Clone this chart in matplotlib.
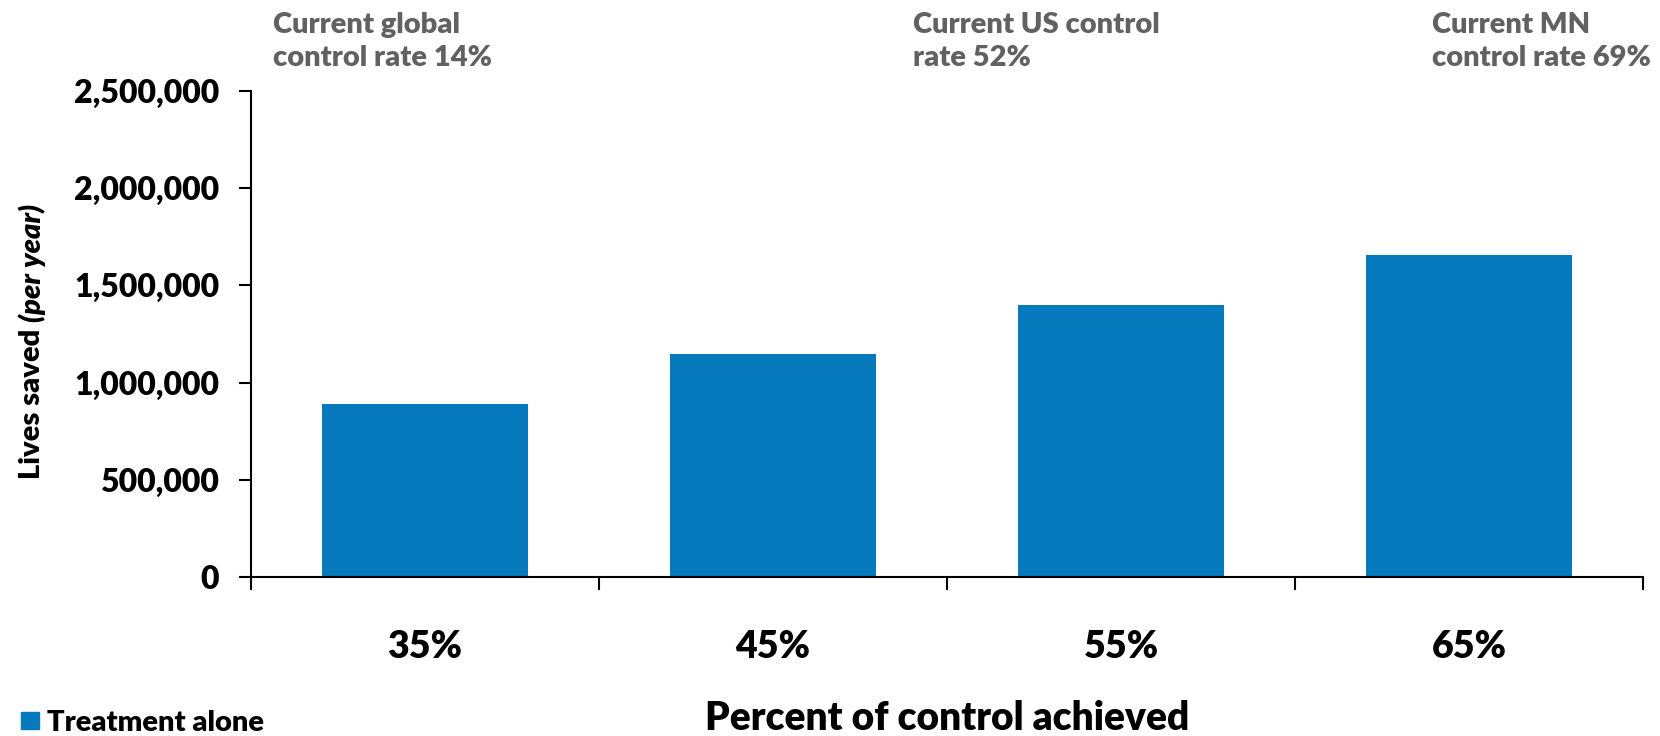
import matplotlib
matplotlib.use("Agg")
import matplotlib.pyplot as plt
from matplotlib.ticker import FuncFormatter, FixedLocator
from matplotlib.patches import Rectangle

# Data
categories = ["35%", "45%", "55%", "65%"]
lives_saved = [890000, 1145000, 1400000, 1655000]
series_name = "Treatment alone"
annotations = [
    "Current global\ncontrol rate 14%",
    "Current US control\nrate 52%",
    "Current MN\ncontrol rate 69%",
]
y_ticks = [0, 500000, 1000000, 1500000, 2000000, 2500000]

BAR_COLOR = "#067ABD"
NOTE_COLOR = "#616161"
FONT = ["Lato", "DejaVu Sans"]
WEIGHT = "heavy"

plt.rcParams["font.family"] = FONT

W, H = 1660, 736
fig = plt.figure(figsize=(W / 100, H / 100), dpi=100)
ax = fig.add_axes([251 / W, 1 - 577 / H, (1643 - 251) / W, (577 - 91) / H])

x = list(range(len(categories)))
ax.bar(x, lives_saved, width=0.59, color=BAR_COLOR, zorder=2)

ax.set_xlim(-0.5, len(categories) - 0.5)
ax.set_ylim(0, 2500000)

# y axis
ax.yaxis.set_major_locator(FixedLocator(y_ticks))
ax.yaxis.set_major_formatter(FuncFormatter(lambda v, p: f"{int(v):,}"))
ax.tick_params(axis="y", direction="out", length=9, width=1.5, pad=14,
               labelsize=23)
for lbl in ax.get_yticklabels():
    lbl.set_fontweight(WEIGHT)

# x axis: ticks at category boundaries, labels at centers
ax.set_xticks([i - 0.5 for i in range(len(categories) + 1)])
ax.set_xticklabels([])
ax.set_xticks(x, minor=True)
ax.set_xticklabels(categories, minor=True, fontsize=27, fontweight=WEIGHT)
ax.tick_params(axis="x", which="major", direction="out", length=9, width=1.5)
ax.tick_params(axis="x", which="minor", length=0, pad=38)

for s in ["top", "right"]:
    ax.spines[s].set_visible(False)
for s in ["left", "bottom"]:
    ax.spines[s].set_linewidth(1.5)

# x-axis title
fig.text(947 / W, 1 - 718 / H, "Percent of control achieved", ha="center",
         va="center", fontsize=28, fontweight=WEIGHT)

# y-axis title with bold-italic suffix
fig.canvas.draw()
renderer = fig.canvas.get_renderer()
t1 = fig.text(32 / W, 1 - 479 / H, "Lives saved ", rotation=90, ha="center",
              va="bottom", fontsize=21, fontweight=WEIGHT)
fig.canvas.draw()
bb = t1.get_window_extent(renderer)
fig.text(32 / W, bb.y1 / H, "(per year)", rotation=90, ha="center",
         va="bottom", fontsize=21, fontweight=WEIGHT, fontstyle="italic")

# annotations above the chart
note_x = [273, 913, 1432]
for nx, txt in zip(note_x, annotations):
    fig.text(nx / W, 1 - 12 / H, txt, ha="left", va="top", fontsize=21,
             fontweight=WEIGHT, color=NOTE_COLOR, linespacing=1.32)

# legend
fig.patches.append(Rectangle((21 / W, 1 - 729 / H), 18 / W, 17 / H,
                             transform=fig.transFigure, color=BAR_COLOR))
fig.text(47 / W, 1 - 723 / H, series_name, ha="left", va="center",
         fontsize=21, fontweight=WEIGHT)

fig.savefig("out.png", dpi=100)
